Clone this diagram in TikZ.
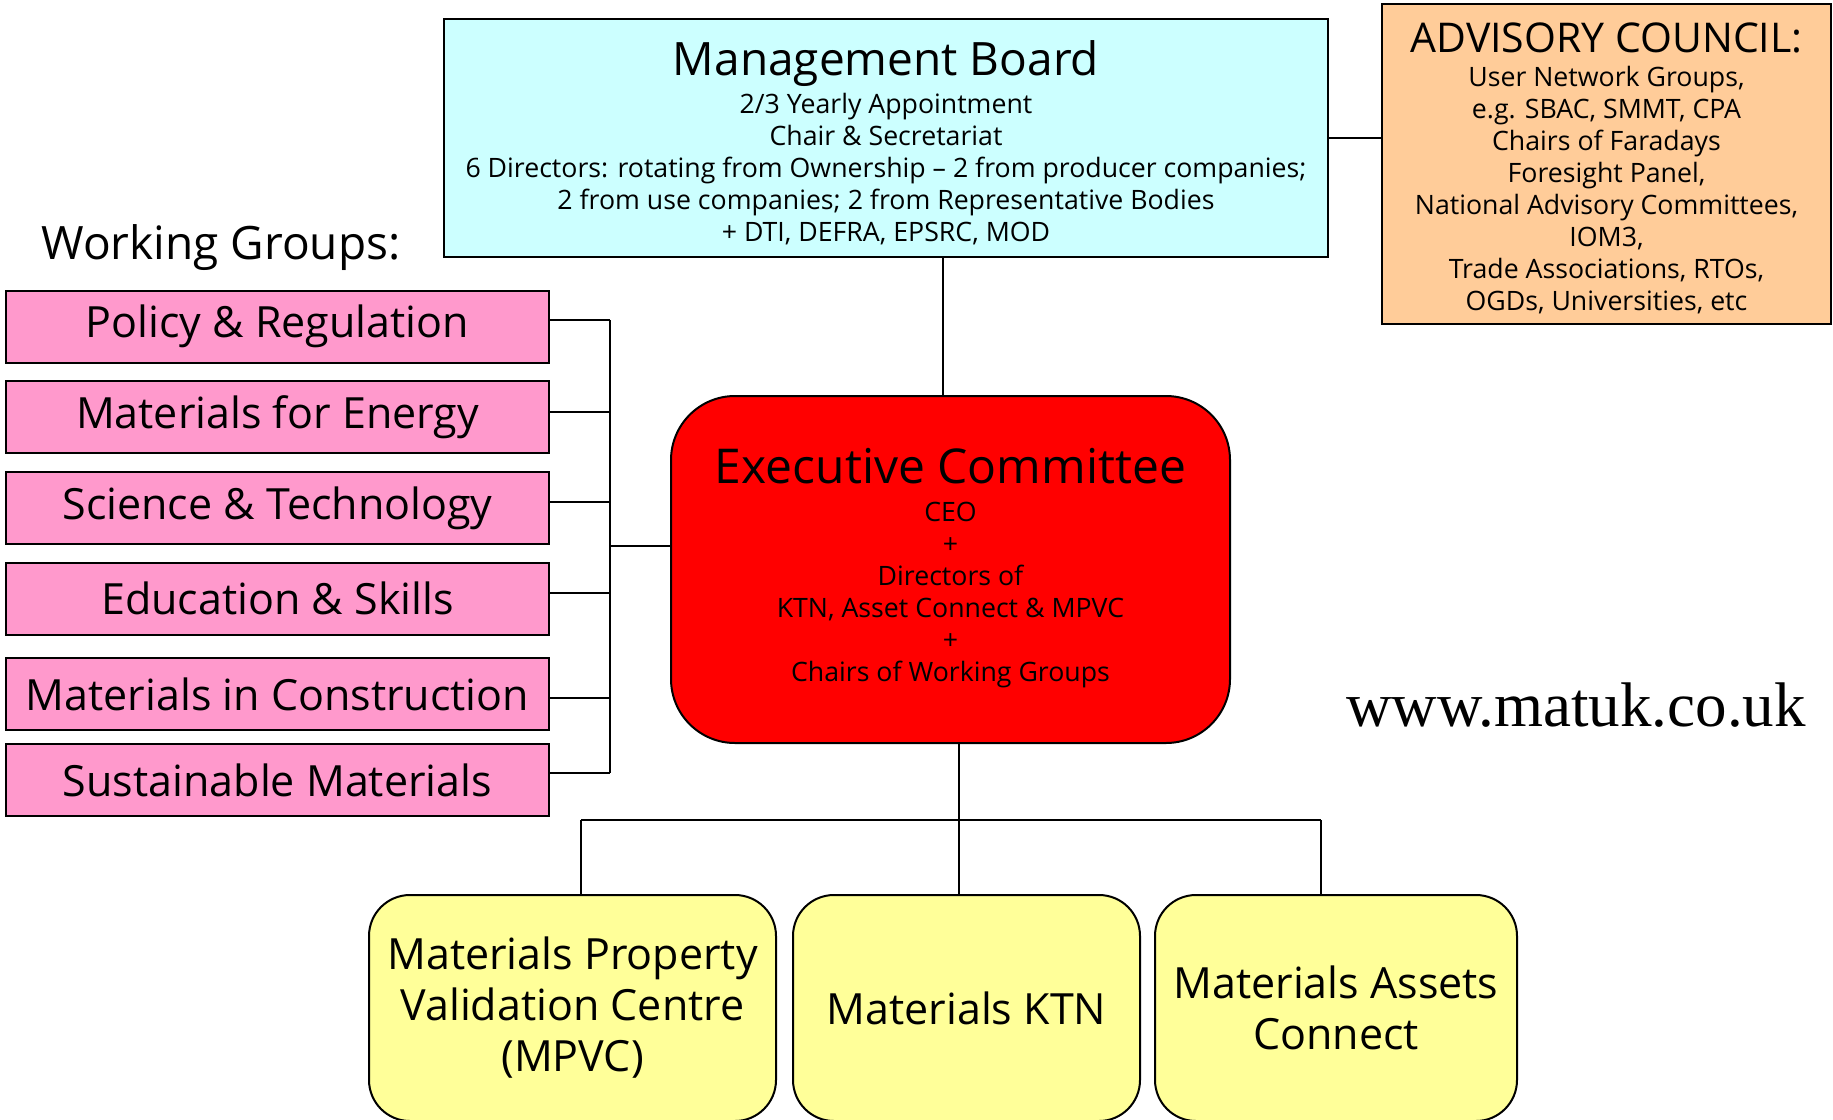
\documentclass[tikz,border=0pt]{standalone}
\usepackage{fontspec}
\setmainfont{Open Sans}
\newfontfamily\urlfont{Liberation Serif}
\definecolor{mbcyan}{HTML}{CCFFFF}
\definecolor{advorange}{HTML}{FFCC99}
\definecolor{wgpink}{HTML}{FF99CC}
\definecolor{execred}{HTML}{FF0000}
\definecolor{unityellow}{HTML}{FFFF99}
\begin{document}
\begin{tikzpicture}[x=1pt,y=-1pt,
  box/.style={draw=black, line width=2pt, inner sep=0pt, align=center},
  wline/.style={line width=2pt, draw=black},
  body/.style={align=center, inner sep=0pt, font=\fontsize{26.7}{32}\selectfont},
  wgbox/.style={box, fill=wgpink, minimum width=543pt, minimum height=72pt,
                font=\fontsize{43}{43}\selectfont},
  unitbox/.style={box, fill=unityellow, rounded corners=41pt,
                  minimum height=226pt, font=\fontsize{43}{51}\selectfont},
]
\useasboundingbox (0,0) rectangle (1833,1119);
\clip (0,0) rectangle (1833,1119);
\fill[white] (0,0) rectangle (1833,1119);

% Management board
\node[box, fill=mbcyan, minimum width=884pt, minimum height=238pt] (mb) at (886,138) {};
\node[body] (mbtext) at (886,143)
 {{\fontsize{46}{46}\selectfont Management Board}\\[6pt]
  2/3 Yearly Appointment\\
  Chair \& Secretariat\\
  6 Directors: rotating from Ownership – 2 from producer companies;\\
  2 from use companies; 2 from Representative Bodies\\
  + DTI, DEFRA, EPSRC, MOD};

% Advisory council
\node[box, fill=advorange, minimum width=449pt, minimum height=320pt] (ac) at (1606.5,164) {};
\node[body] (actext) at (1606.5,168)
 {{\fontsize{41}{41}\selectfont ADVISORY COUNCIL:}\\[2pt]
  User Network Groups,\\
  e.g. SBAC, SMMT, CPA\\
  Chairs of Faradays\\
  Foresight Panel,\\
  National Advisory Committees,\\
  IOM3,\\
  Trade Associations, RTOs,\\
  OGDs, Universities, etc};

% Working groups
\node[font=\fontsize{46}{46}\selectfont] (wglabel) at (221,248) {Working Groups:};
\node[wgbox] (p1) at (277.5,326.7) {Policy \& Regulation};
\node[wgbox] (p2) at (277.5,417.3) {Materials for Energy};
\node[wgbox] (p3) at (277.5,507.9) {Science \& Technology};
\node[wgbox] (p4) at (277.5,598.5) {Education \& Skills};
\node[wgbox] (p5) at (277.5,694.4) {Materials in Construction};
\node[wgbox] (p6) at (277.5,780.3) {Sustainable Materials};

% Executive committee
\node[box, fill=execred, rounded corners=64pt, minimum width=559pt, minimum height=347pt]
 (ec) at (950.5,569.5) {};
\node[body] (ectext) at (950.5,568)
 {{\fontsize{48}{48}\selectfont Executive Committee}\\[6pt]
  CEO\\
  +\\
  Directors of\\
  KTN, Asset Connect \& MPVC\\
  +\\
  Chairs of Working Groups};

% Delivery units
\node[unitbox, minimum width=407pt] (mpvc) at (572.5,1008)
 {Materials Property\\ Validation Centre\\ (MPVC)};
\node[unitbox, minimum width=347pt] (ktn) at (966.5,1008) {Materials KTN};
\node[unitbox, minimum width=362pt] (mac) at (1336,1008) {Materials Assets\\ Connect};

% Web address
\node[font=\urlfont\fontsize{63}{63}\selectfont] (url) at (1576,705) {www.matuk.co.uk};

% Connectors
\coordinate (mbdrop) at (943,0);
\coordinate (wgbus) at (610,546);
\coordinate (busL) at (581,820);
\coordinate (busK) at (959,820);
\coordinate (busR) at (1321,820);

\draw[wline] (mb.east) -- (mb.east -| ac.west);
\draw[wline] (mbdrop |- mb.south) -- (mbdrop |- ec.north);

\foreach \p/\dy in {p1/6.4,p2/5.8,p3/6.4,p4/5.8,p5/-3.5,p6/7.6}
  \draw[wline] ([yshift=\dy pt]\p.east) -- ([yshift=\dy pt]\p.east -| wgbus);
\draw[wline] ([yshift=6.4pt]p1.east -| wgbus) -- ([yshift=7.6pt]p6.east -| wgbus);
\draw[wline] (wgbus) -- (wgbus -| ec.west);

\draw[wline] (busK |- ec.south) -- (busK);
\draw[wline] (busL) -- (busR);
\draw[wline] (busL) -- (busL |- mpvc.north);
\draw[wline] (busK) -- (busK |- ktn.north);
\draw[wline] (busR) -- (busR |- mac.north);
\end{tikzpicture}
\end{document}
